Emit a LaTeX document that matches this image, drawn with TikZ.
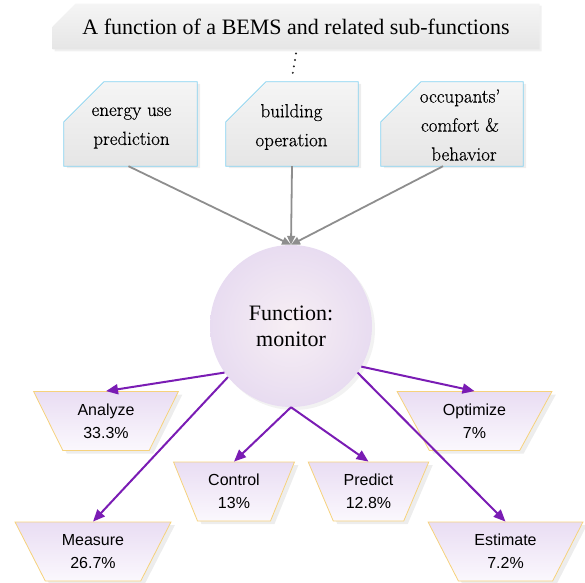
\documentclass[tikz,border=0pt]{standalone}
\usepackage{fontspec}
\setmainfont{Liberation Serif}
\setsansfont{Liberation Sans}
\newfontfamily\boxfont[FakeBold=0.5]{Latin Modern Roman}
\usetikzlibrary{shapes.geometric,shapes.misc,arrows.meta,shadows,backgrounds}

\definecolor{boxedge}{HTML}{86D2F0}
\definecolor{trapedge}{HTML}{F6D27C}
\definecolor{lavtop}{HTML}{E9DDF3}
\definecolor{lavbot}{HTML}{FBF8FD}
\definecolor{circin}{HTML}{F7EFF4}
\definecolor{circout}{HTML}{E8DCF1}
\definecolor{linkgray}{HTML}{8E8E8E}
\definecolor{linkpurple}{HTML}{7A1CB4}

\tikzset{
  banner/.style={chamfered rectangle, chamfered rectangle corners=north west,
    chamfered rectangle xsep=18pt, chamfered rectangle ysep=15pt,
    minimum width=487pt, minimum height=43pt, inner sep=0pt,
    top color=white!96!black, bottom color=white!90!black, draw=none,
    font=\fontsize{22}{26}\selectfont,
    drop shadow={shadow xshift=2pt, shadow yshift=-2pt, fill=black, opacity=0.06}},
  subbox/.style={rectangle, minimum height=84pt, inner sep=0pt},
  subtext/.style={align=center, inner sep=0pt,
    font=\boxfont\fontsize{19}{29}\selectfont},
  subshape/.style={draw=boxedge, line width=0.8pt,
    top color=white!96!black, bottom color=white!90!black},
  subshadow/.style={fill=black, opacity=0.07,
    transform canvas={shift={(3pt,-2pt)}}},
  hub/.style={circle, minimum size=162pt, inner sep=0pt, draw=none,
    inner color=circin, outer color=circout, align=center,
    font=\fontsize{22}{26}\selectfont,
    drop shadow={shadow xshift=3pt, shadow yshift=-3pt, fill=black, opacity=0.05}},
  share/.style={trapezium, shape border rotate=180, trapezium stretches=true,
    minimum height=59pt, inner sep=0pt, draw=trapedge, line width=0.8pt,
    top color=lavtop, bottom color=lavbot, align=center,
    font=\sffamily\fontsize{16}{23}\selectfont,
    drop shadow={shadow xshift=4pt, shadow yshift=-3pt, fill=black, opacity=0.07}},
  feed/.style={draw=linkgray, line width=1.8pt,
    -{Triangle[length=9pt,width=8pt]}},
  spread/.style={draw=linkpurple, line width=2pt,
    -{Triangle[length=12pt,width=10pt]}},
  dots/.style={draw=black!85, line width=2.2pt, line cap=round,
    dash pattern=on 0pt off 6.5pt}
}

\begin{document}
\begin{tikzpicture}[x=1pt,y=-1pt]
\useasboundingbox (0,0) rectangle (585,582);

% heading banner
\node[banner] (title) at (296,26.5) {A function of a BEMS and related sub-functions};

% sub-function frames (outline drawn behind the text below)
\node[subbox, minimum width=133pt] (b1) at (130.5,124) {};
\node[subbox, minimum width=132pt] (b2) at (292,124) {};
\node[subbox, minimum width=142pt] (b3) at (452,124) {};
\node[subtext] (t1) at (131.5,128) {energy use\\prediction};
\node[subtext] (t2) at (291.5,127) {building\\operation};
\node[subtext] (t3) at (460,125) {occupants’\\comfort \&\\\hspace*{8pt}behavior};

\begin{scope}[on background layer]
  \foreach \b in {b1,b2,b3}{
    \path[subshadow] (\b.south west) -- (\b.south east) -- (\b.north east)
      -- ([xshift=40pt]\b.north west) -- ([yshift=-40pt]\b.north west) -- cycle;
    \path[subshape] (\b.south west) -- (\b.south east) -- (\b.north east)
      -- ([xshift=40pt]\b.north west) -- ([yshift=-40pt]\b.north west) -- cycle;
  }
\end{scope}

% central function
\node[hub] (fn) at (291,326) {Function:\\monitor};

% shares of the monitor function
\node[share, minimum width=146pt, trapezium angle=61] (an) at (106,421) {Analyze\\33.3\%};
\node[share, minimum width=156pt, trapezium angle=60] (me) at (93,551.5) {Measure\\26.7\%};
\node[share, minimum width=122pt, trapezium angle=64] (co) at (234,491.5) {Control\\13\%};
\node[share, minimum width=121pt, trapezium angle=63] (pr) at (368.5,491.5) {Predict\\12.8\%};
\node[share, minimum width=155pt, trapezium angle=57] (op) at (474.5,421) {Optimize\\7\%};
\node[share, minimum width=155pt, trapezium angle=60] (es) at (505.5,551.5) {Estimate\\7.2\%};

% connectors
\draw[dots] ([yshift=-4pt]title.south) -- ([yshift=4pt]b2.north);
\draw[feed] ([xshift=-2pt]b1.south) -- (fn.north);
\draw[feed] (b2.south) -- (fn.north);
\draw[feed] ([xshift=-9pt]b3.south) -- (fn.north);

\draw[spread] (fn.215) -- (an.north);
\draw[spread] (fn.219) -- (me.north);
\draw[spread] (fn.270) -- (co.north);
\draw[spread] (fn.270) -- (pr.north);
\draw[spread] (fn.330) -- (op.north);
\draw[spread] (fn.325) -- (es.north);
\end{tikzpicture}
\end{document}
